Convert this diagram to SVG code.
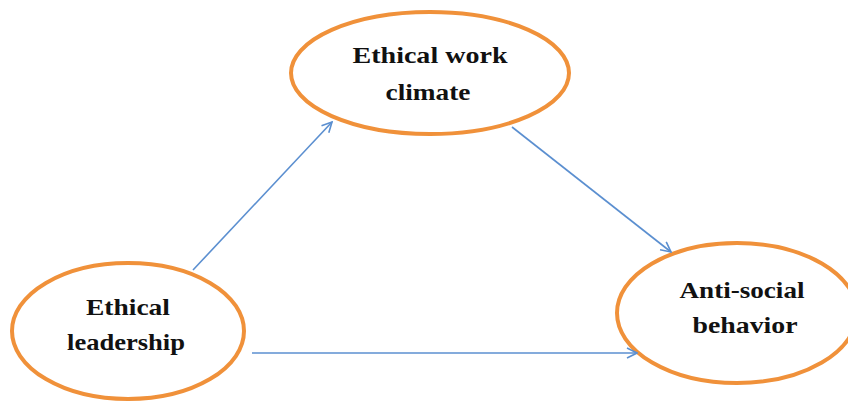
<svg xmlns="http://www.w3.org/2000/svg" width="848" height="401" viewBox="0 0 848 401">
<style>
.node ellipse{fill:#fff;stroke:#f0913a;stroke-width:4}
.lbl{font-family:"Liberation Serif","Times New Roman",serif;font-weight:bold;font-size:24px;fill:#111;text-anchor:middle}
.conn line{stroke:#5b8fd0;stroke-width:1.6;fill:none}
</style>
<defs>
<marker id="arr" viewBox="0 0 12 12" refX="11" refY="6" markerWidth="12" markerHeight="12" markerUnits="userSpaceOnUse" orient="auto">
<path d="M1,1 L11,6 L1,11" fill="none" stroke="#5b8fd0" stroke-width="1.6"/>
</marker>
</defs>
<rect width="848" height="401" fill="#fff"/>
<g id="ethical-work-climate" class="node">
<ellipse cx="430" cy="73" rx="139" ry="61"/>
<text class="lbl" x="430" y="63" textLength="155" lengthAdjust="spacingAndGlyphs">Ethical work</text>
<text class="lbl" x="428" y="100" textLength="85" lengthAdjust="spacingAndGlyphs">climate</text>
</g>
<g id="ethical-leadership" class="node">
<ellipse cx="128" cy="331" rx="116" ry="68"/>
<text class="lbl" x="128" y="315" textLength="84" lengthAdjust="spacingAndGlyphs">Ethical</text>
<text class="lbl" x="126" y="350" textLength="118" lengthAdjust="spacingAndGlyphs">leadership</text>
</g>
<g id="anti-social-behavior" class="node">
<ellipse cx="737" cy="313" rx="120" ry="70"/>
<text class="lbl" x="742" y="298" textLength="125" lengthAdjust="spacingAndGlyphs">Anti-social</text>
<text class="lbl" x="745" y="333" textLength="105" lengthAdjust="spacingAndGlyphs">behavior</text>
</g>
<g id="connectors" class="conn">
<line x1="193" y1="270" x2="332" y2="122" marker-end="url(#arr)"/>
<line x1="512" y1="127" x2="671" y2="252" marker-end="url(#arr)"/>
<line x1="252" y1="353" x2="637" y2="353" marker-end="url(#arr)"/>
</g>
</svg>
